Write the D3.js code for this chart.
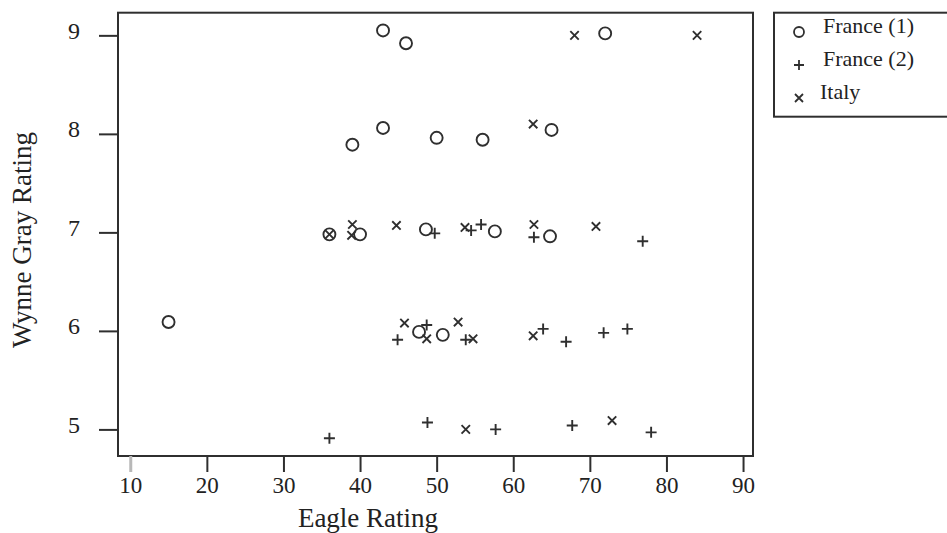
<!DOCTYPE html>
<html>
<head>
<meta charset="utf-8">
<script src="https://cdn.jsdelivr.net/npm/d3@7/dist/d3.min.js"></script>
<style>
  html, body { margin: 0; padding: 0; background: #fff; }
  svg { display: block; font-family: "Liberation Serif", "Times New Roman", serif; }
</style>
</head>
<body>
<svg id="chart" width="947" height="533"></svg>
<script>
// Eagle rating (x) vs Wynne Gray rating (y) for three wine groups
const franceOneEagle = [43, 46, 72, 39, 43, 50, 56, 65, 36, 40, 48.6, 57.6, 64.8, 15, 47.7, 50.8];
const franceOneWynne = [9.05, 8.92, 9.02, 7.89, 8.06, 7.96, 7.94, 8.04, 6.98, 6.98, 7.03, 7.01, 6.96, 6.09, 5.99, 5.96];

const franceTwoEagle = [49.75, 54.5, 55.8, 62.7, 76.9, 44.9, 48.7, 53.8, 63.9, 66.9, 71.8, 74.9, 36, 48.8, 57.7, 67.7, 78];
const franceTwoWynne = [6.99, 7.02, 7.08, 6.95, 6.91, 5.91, 6.06, 5.91, 6.02, 5.89, 5.98, 6.02, 4.91, 5.07, 5.0, 5.04, 4.97];

const italyEagle = [68, 84, 62.6, 36, 39, 38.9, 44.75, 53.7, 62.7, 70.8, 45.8, 48.7, 52.8, 54.75, 62.6, 53.8, 72.9];
const italyWynne = [9.0, 9.0, 8.10, 6.98, 7.08, 6.97, 7.07, 7.05, 7.08, 7.06, 6.08, 5.92, 6.09, 5.92, 5.95, 5.0, 5.09];

const seriesNames = ["France (1)", "France (2)", "Italy"];
const xTicks = [10, 20, 30, 40, 50, 60, 70, 80, 90];
const yTicks = [5, 6, 7, 8, 9];

const ink = "#2f2f2f";
const svg = d3.select("#chart");

const plot = { left: 118, right: 753, top: 12.7, bottom: 456 };
const x = d3.scaleLinear().domain([8.4, 91.3]).range([plot.left, plot.right]);
const y = d3.scaleLinear().domain([4.73, 9.23]).range([plot.bottom, plot.top]);

// marker shapes: open circle, plus, cross
function markerPath(kind, s) {
  if (kind === 0) {
    const p = d3.path();
    p.moveTo(s, 0); p.arc(0, 0, s, 0, Math.PI * 2);
    return p.toString();
  }
  if (kind === 1) return `M${-s},0H${s}M0,${-s}V${s}`;
  return `M${-s},${-s}L${s},${s}M${-s},${s}L${s},${-s}`;
}
const markerSize = [6, 5.5, 4.2];
const legendSize = [5, 5, 4];

// frame
svg.append("rect")
  .attr("x", plot.left).attr("y", plot.top)
  .attr("width", plot.right - plot.left).attr("height", plot.bottom - plot.top)
  .attr("fill", "none").attr("stroke", ink).attr("stroke-width", 2);

// x axis
const gx = svg.append("g")
  .attr("transform", `translate(0,${plot.bottom})`)
  .call(d3.axisBottom(x).tickValues(xTicks).tickSize(16).tickPadding(5).tickFormat(d3.format("d")));
gx.select(".domain").remove();
gx.selectAll(".tick line").attr("stroke", ink).attr("stroke-width", 2);
gx.selectAll(".tick").filter(d => d === 10).select("line").attr("stroke", "#b8b8b8").attr("stroke-width", 3);
gx.selectAll(".tick text").attr("fill", "#222").style("font-size", "23px")
  .style("font-family", "'Liberation Serif', serif");

// y axis
const gy = svg.append("g")
  .attr("transform", `translate(${plot.left},0)`)
  .call(d3.axisLeft(y).tickValues(yTicks).tickSize(19).tickPadding(19).tickFormat(d3.format("d")));
gy.select(".domain").remove();
gy.selectAll(".tick line").attr("stroke", ink).attr("stroke-width", 2);
gy.selectAll(".tick text").attr("fill", "#222").attr("dy", "0.12em").style("font-size", "24px")
  .style("font-family", "'Liberation Serif', serif");

// axis titles
svg.append("text")
  .attr("x", 368).attr("y", 527)
  .attr("text-anchor", "middle")
  .style("font-size", "27px").attr("fill", "#222")
  .text("Eagle Rating");

svg.append("text")
  .attr("transform", "translate(31,240) rotate(-90)")
  .attr("text-anchor", "middle")
  .style("font-size", "27px").attr("fill", "#222")
  .text("Wynne Gray Rating");

// points
const series = [
  { xs: franceOneEagle, ys: franceOneWynne },
  { xs: franceTwoEagle, ys: franceTwoWynne },
  { xs: italyEagle, ys: italyWynne }
];
series.forEach((s, k) => {
  svg.append("g").selectAll("path")
    .data(s.xs.map((v, i) => [v, s.ys[i]]))
    .join("path")
    .attr("transform", d => `translate(${x(d[0])},${y(d[1])})`)
    .attr("d", markerPath(k, markerSize[k]))
    .attr("fill", "none")
    .attr("stroke", ink)
    .attr("stroke-width", 1.9);
});

// legend
const legend = svg.append("g");
legend.append("rect")
  .attr("x", 774).attr("y", 12.7).attr("width", 200).attr("height", 104)
  .attr("fill", "#fff").attr("stroke", ink).attr("stroke-width", 2);
const legendRows = [32, 65, 98];
seriesNames.forEach((name, k) => {
  legend.append("path")
    .attr("transform", `translate(799,${legendRows[k]})`)
    .attr("d", markerPath(k, legendSize[k]))
    .attr("fill", "none").attr("stroke", ink).attr("stroke-width", 1.8);
  legend.append("text")
    .attr("x", k === 2 ? 820 : 823).attr("y", legendRows[k] + 1)
    .style("font-size", "22px").attr("fill", "#222")
    .text(name);
});
</script>
</body>
</html>
